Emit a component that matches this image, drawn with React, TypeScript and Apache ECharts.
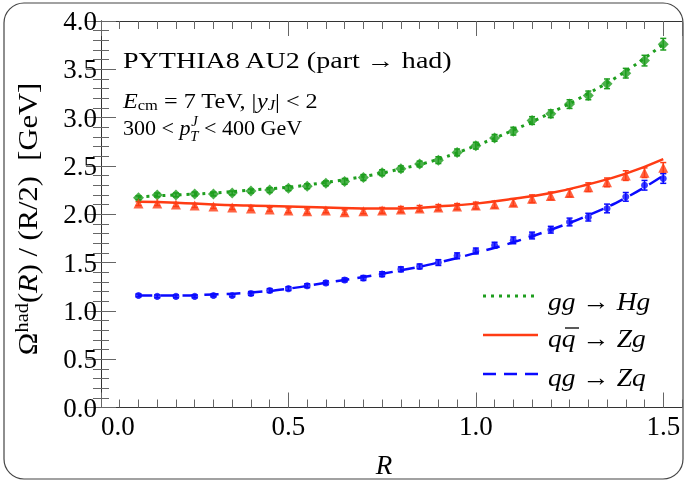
import React, { useEffect, useRef } from "react";
import * as echarts from "echarts";

const R = [0.1, 0.15, 0.2, 0.25, 0.3, 0.35, 0.4, 0.45, 0.5, 0.55, 0.6, 0.65, 0.7, 0.75, 0.8, 0.85, 0.9, 0.95, 1.0, 1.05, 1.1, 1.15, 1.2, 1.25, 1.3, 1.35, 1.4, 1.45, 1.5];

const ggPts = [2.17, 2.2, 2.2, 2.21, 2.21, 2.22, 2.24, 2.25, 2.27, 2.29, 2.32, 2.34, 2.38, 2.43, 2.47, 2.52, 2.56, 2.64, 2.71, 2.79, 2.86, 2.97, 3.04, 3.14, 3.23, 3.35, 3.46, 3.59, 3.76];
const ggErr = [0.02, 0.02, 0.02, 0.02, 0.02, 0.02, 0.02, 0.025, 0.025, 0.025, 0.025, 0.03, 0.03, 0.03, 0.03, 0.03, 0.035, 0.035, 0.035, 0.035, 0.04, 0.04, 0.04, 0.045, 0.045, 0.05, 0.05, 0.055, 0.06];

const qqPts = [2.11, 2.11, 2.1, 2.09, 2.08, 2.07, 2.06, 2.05, 2.04, 2.03, 2.04, 2.02, 2.03, 2.04, 2.05, 2.06, 2.07, 2.08, 2.09, 2.1, 2.12, 2.16, 2.19, 2.22, 2.28, 2.33, 2.4, 2.43, 2.48];
const qqErr = [0.02, 0.02, 0.02, 0.02, 0.02, 0.02, 0.02, 0.02, 0.025, 0.025, 0.025, 0.025, 0.025, 0.03, 0.03, 0.03, 0.03, 0.03, 0.035, 0.035, 0.035, 0.04, 0.04, 0.04, 0.045, 0.045, 0.05, 0.05, 0.055];

const qgPts = [1.16, 1.15, 1.15, 1.15, 1.16, 1.16, 1.18, 1.21, 1.23, 1.26, 1.29, 1.32, 1.34, 1.38, 1.43, 1.46, 1.5, 1.57, 1.62, 1.68, 1.73, 1.78, 1.84, 1.92, 1.97, 2.06, 2.18, 2.3, 2.37];
const qgErr = [0.015, 0.015, 0.015, 0.015, 0.015, 0.015, 0.02, 0.02, 0.02, 0.02, 0.02, 0.02, 0.025, 0.025, 0.025, 0.025, 0.03, 0.03, 0.03, 0.03, 0.035, 0.035, 0.035, 0.04, 0.04, 0.045, 0.045, 0.05, 0.05];

const curveR = [0.1, 0.2, 0.3, 0.4, 0.5, 0.6, 0.7, 0.8, 0.9, 1.0, 1.1, 1.2, 1.3, 1.4, 1.5];
const ggCurve = [2.18, 2.2, 2.22, 2.25, 2.28, 2.33, 2.39, 2.47, 2.57, 2.71, 2.87, 3.05, 3.25, 3.48, 3.76];
const qqCurve = [2.13, 2.12, 2.1, 2.09, 2.08, 2.07, 2.06, 2.06, 2.08, 2.11, 2.16, 2.22, 2.31, 2.42, 2.57];
const qgCurve = [1.16, 1.16, 1.17, 1.19, 1.23, 1.29, 1.35, 1.42, 1.5, 1.6, 1.71, 1.84, 1.99, 2.17, 2.4];

const xTicks = [0, 0.5, 1.0, 1.5];
const seriesNames = ["gg → Hg", "qq̄ → Zg", "qg → Zq"];

const GREEN = "#1e9e1e";
const RED = "#ff3c14";
const BLUE = "#0a0aff";
const SERIF = "'Liberation Serif', 'DejaVu Serif', serif";

function errSeries(pts: number[], err: number[], color: string) {
  return {
    type: "custom",
    xAxisIndex: 0,
    yAxisIndex: 0,
    silent: true,
    z: 3,
    data: R.map((r, i) => [r, pts[i], err[i]]),
    encode: { x: 0, y: 1 },
    renderItem: (params: any, api: any) => {
      const x = api.value(0);
      const y = api.value(1);
      const e = api.value(2);
      const top = api.coord([x, y + e]);
      const bot = api.coord([x, y - e]);
      const w = 3;
      const st = { stroke: color, lineWidth: 1.5 };
      return {
        type: "group",
        children: [
          { type: "line", shape: { x1: top[0], y1: top[1], x2: bot[0], y2: bot[1] }, style: st },
          { type: "line", shape: { x1: top[0] - w, y1: top[1], x2: top[0] + w, y2: top[1] }, style: st },
          { type: "line", shape: { x1: bot[0] - w, y1: bot[1], x2: bot[0] + w, y2: bot[1] }, style: st },
        ],
      };
    },
  };
}

export default function App() {
  const ref = useRef<HTMLDivElement>(null);
  useEffect(() => {
    if (!ref.current) return;
    const chart = echarts.init(ref.current, null, { renderer: "svg" });
    const axisLineStyle = { color: "#333", width: 1 };
    const tickStyle = { color: "#666", width: 1 };
    const xBase = { type: "value", min: 0, max: 1.55, splitLine: { show: false } };
    const yBase = { type: "value", min: 0, max: 4, interval: 0.5, splitLine: { show: false } };
    const option: any = {
      animation: false,
      grid: { left: 101, right: 2, top: 21, bottom: 74.5, containLabel: false },
      xAxis: [
        {
          ...xBase,
          position: "bottom",
          interval: 0.5,
          axisLine: { show: true, lineStyle: axisLineStyle },
          axisTick: { show: true, inside: true, length: 15, lineStyle: tickStyle },
          axisLabel: {
            show: true,
            margin: 8,
            fontSize: 27,
            lineHeight: 20,
            fontFamily: SERIF,
            color: "#000",
            showMaxLabel: false,
            alignMinLabel: "left",
            formatter: (v: number) => (xTicks.some((t) => Math.abs(t - v) < 1e-6) ? v.toFixed(1) : ""),
          },
        },
        {
          ...xBase,
          position: "bottom",
          interval: 0.05,
          axisLine: { show: false },
          axisTick: { show: true, inside: true, length: 8, lineStyle: tickStyle },
          axisLabel: { show: false },
        },
        {
          ...xBase,
          position: "top",
          interval: 0.5,
          axisLine: { show: true, lineStyle: axisLineStyle },
          axisTick: { show: true, inside: true, length: 15, lineStyle: tickStyle },
          axisLabel: { show: false },
        },
        {
          ...xBase,
          position: "top",
          interval: 0.05,
          axisLine: { show: false },
          axisTick: { show: true, inside: true, length: 8, lineStyle: tickStyle },
          axisLabel: { show: false },
        },
      ],
      yAxis: [
        {
          ...yBase,
          position: "left",
          axisLine: { show: true, lineStyle: axisLineStyle },
          axisTick: { show: true, inside: true, length: 15, lineStyle: tickStyle },
          minorTick: { show: true, splitNumber: 5, length: 8, lineStyle: tickStyle },
          axisLabel: {
            show: true,
            margin: 4,
            fontSize: 27,
            lineHeight: 16,
            fontFamily: SERIF,
            color: "#000",
            formatter: (v: number) => v.toFixed(1),
          },
        },
        {
          ...yBase,
          position: "right",
          axisLine: { show: true, lineStyle: axisLineStyle },
          axisTick: { show: true, inside: true, length: 15, lineStyle: tickStyle },
          minorTick: { show: true, splitNumber: 5, length: 8, lineStyle: tickStyle },
          axisLabel: { show: false },
        },
      ],
      series: [
        {
          name: seriesNames[0],
          type: "line",
          smooth: true,
          symbol: "none",
          data: curveR.map((r, i) => [r, ggCurve[i]]),
          lineStyle: { color: GREEN, width: 3, type: [3, 5] },
          z: 2,
        },
        {
          name: seriesNames[1],
          type: "line",
          smooth: true,
          symbol: "none",
          data: curveR.map((r, i) => [r, qqCurve[i]]),
          lineStyle: { color: RED, width: 2.5, type: "solid" },
          z: 2,
        },
        {
          name: seriesNames[2],
          type: "line",
          smooth: true,
          symbol: "none",
          data: curveR.map((r, i) => [r, qgCurve[i]]),
          lineStyle: { color: BLUE, width: 2.5, type: [14, 8] },
          z: 2,
        },
        errSeries(ggPts, ggErr, GREEN),
        errSeries(qqPts, qqErr, RED),
        errSeries(qgPts, qgErr, BLUE),
        {
          name: seriesNames[0] + " (MC)",
          type: "scatter",
          symbol: "diamond",
          symbolSize: 11,
          itemStyle: { color: GREEN },
          data: R.map((r, i) => [r, ggPts[i]]),
          z: 4,
        },
        {
          name: seriesNames[1] + " (MC)",
          type: "scatter",
          symbol: "triangle",
          symbolSize: 10,
          itemStyle: { color: RED },
          data: R.map((r, i) => [r, qqPts[i]]),
          z: 4,
        },
        {
          name: seriesNames[2] + " (MC)",
          type: "scatter",
          symbol: "circle",
          symbolSize: 7,
          itemStyle: { color: BLUE },
          data: R.map((r, i) => [r, qgPts[i]]),
          z: 4,
        },
      ],
      graphic: [
        {
          type: "rect",
          shape: { x: 4, y: 3, width: 679, height: 476, r: 20 },
          style: { fill: "none", stroke: "#444", lineWidth: 1.2 },
          silent: true,
          z: 0,
        },
        {
          type: "text",
          x: 28,
          y: 219,
          rotation: Math.PI / 2,
          scaleX: 1.13,
          style: {
            text: "{n|Ω}{s|had}{n|(}{i|R}{n|) / (R/2)  [GeV]}",
            align: "center",
            verticalAlign: "middle",
            fill: "#000",
            rich: {
              n: { fontSize: 27, fontFamily: SERIF, fill: "#000", lineHeight: 31 },
              i: { fontSize: 27, fontFamily: SERIF, fontStyle: "italic", fill: "#000", lineHeight: 31 },
              s: { fontSize: 18, fontFamily: SERIF, fill: "#000", verticalAlign: "top", lineHeight: 31 },
            },
          },
        },
        {
          type: "text",
          x: 384,
          y: 465,
          style: { text: "R", fontSize: 27, fontFamily: SERIF, fontStyle: "italic", fill: "#000", align: "center", verticalAlign: "middle" },
        },
        {
          type: "text",
          x: 123,
          y: 60,
          scaleX: 1.22,
          style: { text: "PYTHIA8 AU2 (part → had)", fontSize: 23, fontFamily: SERIF, fill: "#000", align: "left", verticalAlign: "middle" },
        },
        {
          type: "text",
          x: 123,
          y: 100,
          scaleX: 1.1,
          style: {
            text: "{i|E}{sub|cm}{n| = 7 TeV, |}{i|y}{isub|J}{n|| < 2}",
            align: "left",
            verticalAlign: "middle",
            rich: {
              n: { fontSize: 22, fontFamily: SERIF, fill: "#000", lineHeight: 25 },
              i: { fontSize: 22, fontFamily: SERIF, fontStyle: "italic", fill: "#000", lineHeight: 25 },
              sub: { fontSize: 15, fontFamily: SERIF, fill: "#000", verticalAlign: "bottom", lineHeight: 25 },
              isub: { fontSize: 15, fontFamily: SERIF, fontStyle: "italic", fill: "#000", verticalAlign: "bottom", lineHeight: 25 },
            },
          },
        },
        {
          type: "group",
          x: 123,
          y: 128,
          scaleX: 1.05,
          children: [
            {
              type: "text",
              x: 0,
              y: 0,
              style: {
                text: "{n|300 < }{i|p}",
                align: "left",
                verticalAlign: "middle",
                rich: {
                  n: { fontSize: 21, fontFamily: SERIF, fill: "#000" },
                  i: { fontSize: 21, fontFamily: SERIF, fontStyle: "italic", fill: "#000" },
                },
              },
            },
            {
              type: "text",
              x: 65,
              y: -7,
              style: { text: "J", fontSize: 14, fontFamily: SERIF, fontStyle: "italic", fill: "#000", align: "left", verticalAlign: "middle" },
            },
            {
              type: "text",
              x: 64,
              y: 8,
              style: { text: "T", fontSize: 14, fontFamily: SERIF, fontStyle: "italic", fill: "#000", align: "left", verticalAlign: "middle" },
            },
            {
              type: "text",
              x: 72,
              y: 0,
              style: { text: " < 400 GeV", fontSize: 21, fontFamily: SERIF, fill: "#000", align: "left", verticalAlign: "middle" },
            },
          ],
        },
        // legend
        {
          type: "line",
          shape: { x1: 483, y1: 296, x2: 538, y2: 296 },
          style: { stroke: GREEN, lineWidth: 3, lineDash: [3, 5] },
        },
        {
          type: "line",
          shape: { x1: 483, y1: 335, x2: 538, y2: 335 },
          style: { stroke: RED, lineWidth: 2.5 },
        },
        {
          type: "line",
          shape: { x1: 483, y1: 374, x2: 538, y2: 374 },
          style: { stroke: BLUE, lineWidth: 2.5, lineDash: [13, 8] },
        },
        {
          type: "text",
          x: 548,
          y: 302,
          scaleX: 1.1,
          style: { text: seriesNames[0], fontSize: 25, fontFamily: SERIF, fontStyle: "italic", fill: "#000", align: "left", verticalAlign: "middle" },
        },
        {
          type: "text",
          x: 548,
          y: 339,
          scaleX: 1.1,
          style: { text: "qq → Zg", fontSize: 25, fontFamily: SERIF, fontStyle: "italic", fill: "#000", align: "left", verticalAlign: "middle" },
        },
        {
          type: "line",
          shape: { x1: 565, y1: 328, x2: 579, y2: 328 },
          style: { stroke: "#000", lineWidth: 1.3 },
        },
        {
          type: "text",
          x: 548,
          y: 378,
          scaleX: 1.1,
          style: { text: seriesNames[2], fontSize: 25, fontFamily: SERIF, fontStyle: "italic", fill: "#000", align: "left", verticalAlign: "middle" },
        },
      ],
    };
    chart.setOption(option);
    return () => chart.dispose();
  }, []);
  return <div ref={ref} style={{ position: "fixed", left: 0, top: 0, width: 684, height: 482 }} />;
}
